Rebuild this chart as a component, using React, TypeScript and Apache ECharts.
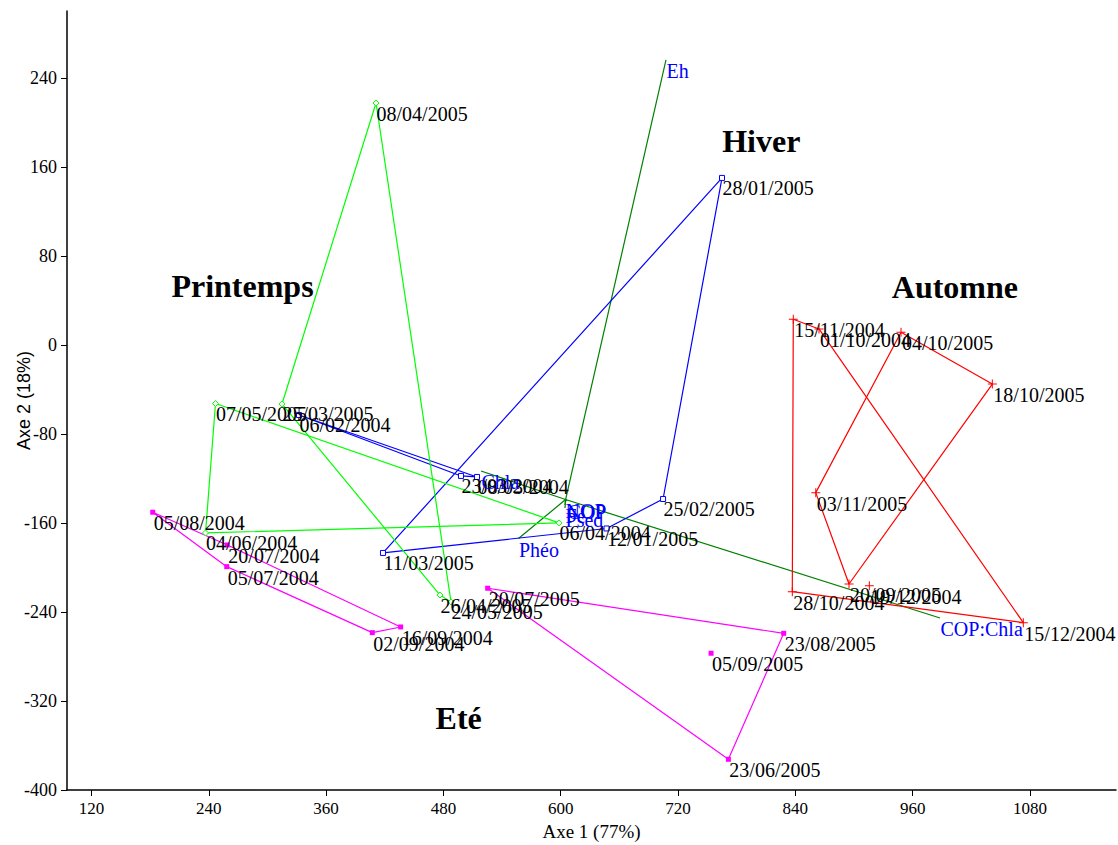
import React, { useEffect, useRef } from "react";
import * as echarts from "echarts";

// ---- axes ----
const X_MIN = 95;
const X_MAX = 1168;
const Y_MIN = -400;
const Y_MAX = 300;
const xTicks = [120, 240, 360, 480, 600, 720, 840, 960, 1080];
const yTicks = [-400, -320, -240, -160, -80, 0, 80, 160, 240];

// ---- observations: [date, axe1, axe2] ----
const hiverPoints: [string, number, number][] = [
  ["06/02/2004", 332.3, -63],
  ["23/03/2004", 498, -117.8],
  ["08/03/2004", 514.4, -118.7],
  ["12/01/2005", 646.9, -165],
  ["28/01/2005", 765, 150],
  ["25/02/2005", 704.7, -138.5],
  ["11/03/2005", 418.2, -187],
];
const printempsPoints: [string, number, number][] = [
  ["06/04/2004", 598.3, -160],
  ["04/06/2004", 236.7, -169],
  ["25/03/2005", 314.9, -53.1],
  ["08/04/2005", 411.1, 217.3],
  ["26/04/2005", 476.5, -224.8],
  ["07/05/2005", 246.9, -52.7],
  ["24/05/2005", 487.8, -231],
];
const etePoints: [string, number, number][] = [
  ["05/07/2004", 258.4, -199.3],
  ["20/07/2004", 259, -179.8],
  ["05/08/2004", 182.7, -150.4],
  ["02/09/2004", 407.3, -258.6],
  ["16/09/2004", 436.3, -253.5],
  ["23/06/2005", 771.5, -372.4],
  ["20/07/2005", 525.3, -218.7],
  ["23/08/2005", 828.1, -259.2],
  ["05/09/2005", 753.8, -277.1],
];
const automnePoints: [string, number, number][] = [
  ["01/10/2004", 864.2, 14.3],
  ["28/10/2004", 836.9, -221.8],
  ["15/11/2004", 837.9, 23],
  ["19/12/2004", 915.7, -216.4],
  ["15/12/2004", 1073.2, -249.6],
  ["20/09/2005", 894.9, -214.9],
  ["04/10/2005", 948.1, 11.3],
  ["18/10/2005", 1041.5, -35.2],
  ["03/11/2005", 860.9, -132.8],
];

// ---- polygons joining the observations (closed) ----
const hiverPaths: string[][] = [
  ["06/02/2004", "23/03/2004", "08/03/2004"],
  ["28/01/2005", "25/02/2005", "12/01/2005", "11/03/2005"],
];
const printempsPaths: string[][] = [
  ["07/05/2005", "06/04/2004", "04/06/2004"],
  ["08/04/2005", "25/03/2005", "26/04/2005", "24/05/2005"],
];
const etePaths: string[][] = [
  ["05/08/2004", "20/07/2004", "16/09/2004", "02/09/2004", "05/07/2004"],
  ["20/07/2005", "23/08/2005", "23/06/2005"],
];
const automnePaths: string[][] = [
  ["15/11/2004", "01/10/2004", "15/12/2004", "28/10/2004"],
  ["04/10/2005", "18/10/2005", "20/09/2005", "03/11/2005"],
];

// ---- variables ----
const varOrigin: [number, number] = [605, -139];
const variables: [string, number, number][] = [
  ["Eh", 707.7, 256],
  ["Phéo", 556.8, -174],
  ["Chla", 518.5, -113.3],
  ["COP:Chla", 988, -245.4],
  ["NOP", 604.4, -139.4],
  ["COP", 606.5, -140.3],
  ["Fe", 604.4, -143.9],
  ["Psed", 604.4, -146.6],
];

// ---- season titles ----
const seasonTitles: [string, number, number][] = [
  ["Printemps", 274.5, 53],
  ["Hiver", 805.2, 183.4],
  ["Automne", 1003.2, 52.1],
  ["Eté", 495.6, -335.3],
];

const SERIF = '"Liberation Serif", "Times New Roman", Times, serif';
const SANS = '"Liberation Sans Narrow", "Liberation Sans", Arial, sans-serif';

const CROSS = "path://M0,4H9V5H0Z M4,0H5V9H4Z";

function seasonSeries(
  points: [string, number, number][],
  paths: string[][],
  color: string,
  symbol: string,
  size: number,
  fill: string
): any[] {
  const lookup: Record<string, [number, number]> = {};
  points.forEach((p) => (lookup[p[0]] = [p[1], p[2]]));
  const out: any[] = paths.map((path) => ({
    type: "line",
    data: [...path, path[0]].map((n) => lookup[n]),
    showSymbol: false,
    symbol: "none",
    lineStyle: { color, width: 1.2, opacity: 1 },
    silent: true,
    z: 2,
  }));
  out.push({
    type: "scatter",
    data: points.map((p) => ({ name: p[0], value: [p[1], p[2]] })),
    symbol,
    symbolSize: size,
    itemStyle: { color: fill, borderColor: color, borderWidth: fill === color ? 0 : 1, opacity: 1 },
    label: {
      show: true,
      formatter: "{b}",
      position: [size / 2 + 1, size / 2 + 1],
      fontFamily: SERIF,
      fontSize: 20,
      color: "#000",
      opacity: 1,
    },
    z: 3,
  });
  return out;
}

export default function App() {
  const ref = useRef<HTMLDivElement>(null);
  useEffect(() => {
    if (!ref.current) return;
    const chart = echarts.init(ref.current, undefined, { renderer: "svg" });
    const series: any[] = [
      ...variables.map((v) => ({
        type: "line",
        data: [varOrigin, [v[1], v[2]]],
        showSymbol: false,
        symbol: "none",
        lineStyle: { color: "#008000", width: 1.2, opacity: 1 },
        silent: true,
        z: 1,
      })),
      ...seasonSeries(hiverPoints, hiverPaths, "#0000ff", "rect", 5, "#ffffff"),
      ...seasonSeries(printempsPoints, printempsPaths, "#00ff00", "diamond", 6, "#ffffff"),
      ...seasonSeries(etePoints, etePaths, "#ff00ff", "rect", 5, "#ff00ff"),
      ...seasonSeries(automnePoints, automnePaths, "#ff0000", CROSS, 9, "#ff0000"),
      {
        type: "scatter",
        data: variables.map((v) => ({ name: v[0], value: [v[1], v[2]] })),
        symbolSize: 1,
        itemStyle: { color: "transparent", opacity: 1 },
        label: {
          show: true,
          formatter: "{b}",
          position: [1, 2],
          fontFamily: SERIF,
          fontSize: 20,
          color: "#0000ff",
          opacity: 1,
        },
        z: 4,
      },
      {
        type: "scatter",
        data: seasonTitles.map((t) => ({ name: t[0], value: [t[1], t[2]] })),
        symbolSize: 1,
        itemStyle: { color: "transparent", opacity: 1 },
        label: {
          show: true,
          formatter: "{b}",
          position: "inside",
          fontFamily: SERIF,
          fontSize: 32,
          fontWeight: "bold",
          color: "#000",
          opacity: 1,
        },
        z: 4,
      },
    ];
    chart.setOption({
      animation: false,
      backgroundColor: "#ffffff",
      grid: { left: 67, right: 2, top: 11, bottom: 55, containLabel: false, outerBoundsMode: "none" },
      xAxis: {
        type: "value",
        min: X_MIN,
        max: X_MAX,
        name: "Axe 1 (77%)",
        nameLocation: "middle",
        nameGap: 32,
        nameMoveOverlap: false,
        nameTextStyle: { fontFamily: SERIF, fontSize: 19, color: "#000" },
        axisLine: { show: true, onZero: false, lineStyle: { color: "#000", width: 1.5 } },
        axisTick: { show: true, customValues: xTicks, length: 6, lineStyle: { color: "#000" } },
        axisLabel: {
          customValues: xTicks,
          margin: 10,
          fontFamily: SERIF,
          fontSize: 17,
          color: "#000",
          formatter: (v: number) => String(v),
        },
        splitLine: { show: false },
      },
      yAxis: {
        type: "value",
        min: Y_MIN,
        max: Y_MAX,
        name: "Axe 2 (18%)",
        nameLocation: "middle",
        nameGap: 34,
        nameMoveOverlap: false,
        nameTextStyle: { fontFamily: SANS, fontSize: 18, color: "#000" },
        axisLine: { show: true, onZero: false, lineStyle: { color: "#000", width: 1.5 } },
        axisTick: { show: true, customValues: yTicks, length: 6, lineStyle: { color: "#000" } },
        axisLabel: {
          customValues: yTicks,
          margin: 10,
          fontFamily: SERIF,
          fontSize: 18,
          color: "#000",
          formatter: (v: number) => String(v),
        },
        splitLine: { show: false },
      },
      series,
    });
    return () => chart.dispose();
  }, []);
  return (
    <div
      ref={ref}
      style={{ position: "fixed", left: 0, top: 0, width: "1118px", height: "845px", background: "#fff" }}
    />
  );
}
